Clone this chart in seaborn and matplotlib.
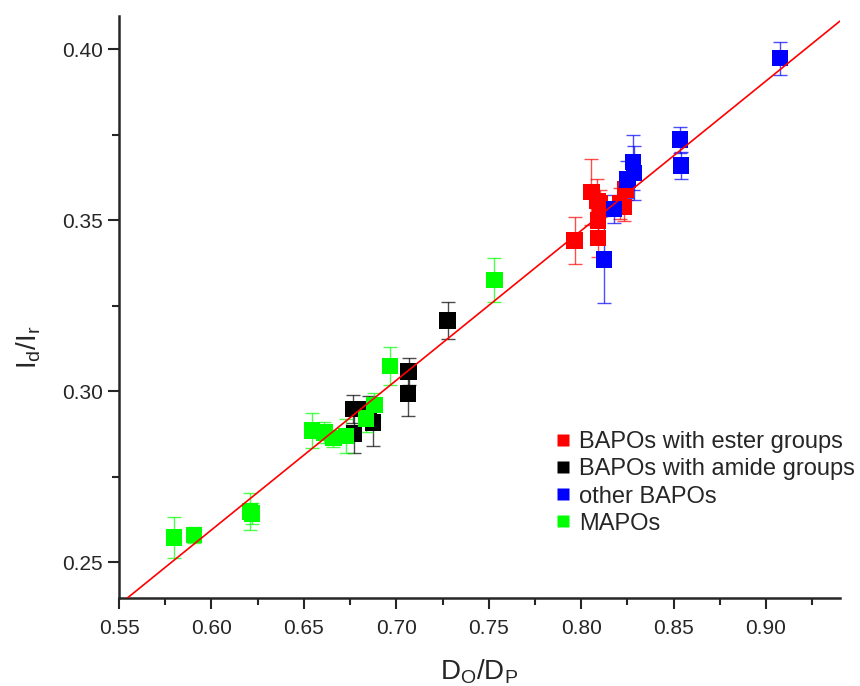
import numpy as np
import pandas as pd
import matplotlib
matplotlib.use("Agg")
import matplotlib.pyplot as plt
from matplotlib.ticker import MultipleLocator
import seaborn as sns

sns.set_style("ticks")
plt.rcParams['font.family'] = ['Liberation Sans', 'DejaVu Sans']
plt.rcParams['mathtext.fontset'] = 'custom'
plt.rcParams['mathtext.rm'] = 'Liberation Sans'
plt.rcParams['mathtext.it'] = 'Liberation Sans'

# ---- data ----
ester_x = [0.7965, 0.8055, 0.8088, 0.8102, 0.8091, 0.8091, 0.8210, 0.8232, 0.8241]
ester_y = [0.3441, 0.3583, 0.3556, 0.3549, 0.3500, 0.3448, 0.3549, 0.3539, 0.3590]
ester_err = [0.0070, 0.0097, 0.0064, 0.0040, 0.0040, 0.0054, 0.0045, 0.0040, 0.0030]

amide_x = [0.6768, 0.6772, 0.6850, 0.6875, 0.7063, 0.7067, 0.7278]
amide_y = [0.2948, 0.2877, 0.2948, 0.2909, 0.2994, 0.3058, 0.3207]
amide_err = [0.0040, 0.0057, 0.0037, 0.0069, 0.0066, 0.0039, 0.0055]

other_x = [0.8124, 0.8178, 0.8250, 0.8280, 0.8285, 0.8534, 0.8539, 0.9076]
other_y = [0.3385, 0.3533, 0.3619, 0.3670, 0.3638, 0.3736, 0.3660, 0.3974]
other_err = [0.0127, 0.0040, 0.0055, 0.0080, 0.0080, 0.0038, 0.0040, 0.0048]

mapo_x = [0.5798, 0.5907, 0.6208, 0.6218, 0.6543, 0.6611, 0.6660, 0.6729, 0.6837, 0.6882, 0.6967, 0.7531]
mapo_y = [0.2573, 0.2579, 0.2648, 0.2643, 0.2885, 0.2880, 0.2863, 0.2869, 0.2921, 0.2960, 0.3074, 0.3326]
mapo_err = [0.0060, 0.0024, 0.0054, 0.0030, 0.0051, 0.0030, 0.0025, 0.0050, 0.0040, 0.0035, 0.0055, 0.0065]

groups = ['BAPOs with ester groups', 'BAPOs with amide groups', 'other BAPOs', 'MAPOs']
colors = ['#ff0000', '#000000', '#0000ff', '#00ff00']

# linear fit shown in the reference
fit_slope = 0.4376
fit_intercept = -0.0031

df = pd.concat([
    pd.DataFrame({'x': ester_x, 'y': ester_y, 'err': ester_err, 'group': groups[0]}),
    pd.DataFrame({'x': amide_x, 'y': amide_y, 'err': amide_err, 'group': groups[1]}),
    pd.DataFrame({'x': other_x, 'y': other_y, 'err': other_err, 'group': groups[2]}),
    pd.DataFrame({'x': mapo_x, 'y': mapo_y, 'err': mapo_err, 'group': groups[3]}),
], ignore_index=True)

fig = plt.figure(figsize=(8.6, 6.86), dpi=100)
ax = fig.add_axes([0.1384, 0.128, 0.8383, 0.849])

for g, c in zip(groups, colors):
    sub = df[df['group'] == g]
    ax.errorbar(sub['x'], sub['y'], yerr=sub['err'], fmt='none', ecolor=c,
                elinewidth=1.0, capsize=5, capthick=1.0, alpha=0.7, zorder=2)

sns.scatterplot(data=df, x='x', y='y', hue='group', hue_order=groups,
                palette=colors, marker='s', s=140, edgecolor='none',
                ax=ax, zorder=3)

xfit = np.array([0.55, 0.94])
ax.plot(xfit, fit_slope * xfit + fit_intercept, color='#ff0000', lw=1.2, zorder=4)

ax.set_xlim(0.55, 0.94)
ax.set_ylim(0.2395, 0.4098)
ax.xaxis.set_major_locator(MultipleLocator(0.05))
ax.xaxis.set_minor_locator(MultipleLocator(0.025))
ax.yaxis.set_major_locator(MultipleLocator(0.05))
ax.yaxis.set_minor_locator(MultipleLocator(0.025))
ax.xaxis.set_major_formatter(plt.FormatStrFormatter('%.2f'))
ax.yaxis.set_major_formatter(plt.FormatStrFormatter('%.2f'))

sns.despine(ax=ax)
for s in ['left', 'bottom']:
    ax.spines[s].set_linewidth(1.8)
ax.tick_params(which='major', direction='out', length=8, width=1.5, labelsize=15)
ax.tick_params(axis='x', which='major', pad=7)
ax.tick_params(which='minor', direction='out', length=5, width=1.5)

ax.set_xlabel(r'$\mathregular{D_O/D_P}$', fontsize=20, labelpad=14)
ax.set_ylabel(r'$\mathregular{I_d/I_r}$', fontsize=20)
ax.yaxis.set_label_coords(-0.105, 0.43)

leg = ax.legend(loc='upper left', bbox_to_anchor=(0.583, 0.303), frameon=False,
                fontsize=17, handletextpad=0.1, labelspacing=0.22,
                handlelength=1.2, markerscale=0.75, borderaxespad=0)

fig.savefig('out.png', dpi=100)
